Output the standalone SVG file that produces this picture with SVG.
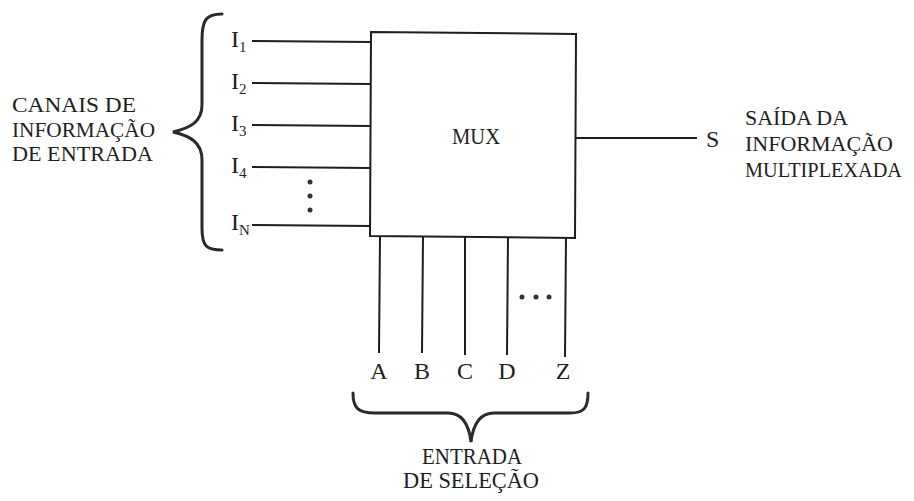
<svg xmlns="http://www.w3.org/2000/svg" width="914" height="501" viewBox="0 0 914 501">
<style>
text{font-family:"Liberation Serif","DejaVu Serif",serif;fill:#1e1e1e;font-size:24px}
.lbl{font-size:22px}
.ln{stroke:#1e1e1e;stroke-width:2;fill:none}
.br{stroke:#2a2a2a;stroke-width:3;fill:none;stroke-linecap:round}
.dot{fill:#333}
.sub{font-size:15px}
</style>
<rect width="914" height="501" fill="#ffffff"/>
<g id="connectors">
<line class="ln" x1="252" y1="41" x2="371" y2="42"/>
<line class="ln" x1="252" y1="83" x2="371" y2="84"/>
<line class="ln" x1="252" y1="125" x2="371" y2="126"/>
<line class="ln" x1="252" y1="167" x2="371" y2="168"/>
<line class="ln" x1="252" y1="225" x2="371" y2="226"/>
<line class="ln" x1="576" y1="138" x2="697" y2="138"/>
<line class="ln" x1="380" y1="237" x2="379" y2="353"/>
<line class="ln" x1="423" y1="237" x2="422" y2="353"/>
<line class="ln" x1="465" y1="237" x2="465" y2="355"/>
<line class="ln" x1="508" y1="237" x2="507" y2="355"/>
<line class="ln" x1="566" y1="237" x2="565" y2="357"/>
</g>
<g id="mux">
<path class="ln" d="M371,32 L576,34 L575,238 L370,236 Z" fill="#fff"/>
<text x="476" y="144" text-anchor="middle" textLength="48" lengthAdjust="spacingAndGlyphs">MUX</text>
</g>
<g id="inputs">
<text x="231" y="47">I<tspan class="sub" dy="5">1</tspan></text>
<text x="231" y="89">I<tspan class="sub" dy="5">2</tspan></text>
<text x="231" y="131">I<tspan class="sub" dy="5">3</tspan></text>
<text x="231" y="173">I<tspan class="sub" dy="5">4</tspan></text>
<text x="231" y="230">I<tspan class="sub" dy="5">N</tspan></text>
<circle class="dot" cx="310" cy="182" r="2.5"/>
<circle class="dot" cx="310" cy="196" r="2.5"/>
<circle class="dot" cx="310" cy="210" r="2.5"/>
</g>
<g id="input-brace">
<path class="br" d="M222,14 C206,14 202,20 202,40 L202,105 C202,122 190,128 173,132 C190,136 202,142 202,160 L202,228 C202,246 206,250 222,250"/>
</g>
<g id="input-label">
<text class="lbl" x="12" y="112" textLength="124" lengthAdjust="spacingAndGlyphs">CANAIS DE</text>
<text class="lbl" x="12" y="137" textLength="143" lengthAdjust="spacingAndGlyphs">INFORMAÇÃO</text>
<text class="lbl" x="12" y="161" textLength="141" lengthAdjust="spacingAndGlyphs">DE ENTRADA</text>
</g>
<g id="output">
<text x="706" y="147" font-size="22">S</text>
<text class="lbl" x="745" y="125" textLength="103" lengthAdjust="spacingAndGlyphs">SAÍDA DA</text>
<text class="lbl" x="745" y="151" textLength="148" lengthAdjust="spacingAndGlyphs">INFORMAÇÃO</text>
<text class="lbl" x="745" y="177" textLength="157" lengthAdjust="spacingAndGlyphs">MULTIPLEXADA</text>
</g>
<g id="select">
<text x="379" y="379" text-anchor="middle">A</text>
<text x="422" y="379" text-anchor="middle">B</text>
<text x="465" y="379" text-anchor="middle">C</text>
<text x="507" y="379" text-anchor="middle">D</text>
<text x="563" y="379" text-anchor="middle">Z</text>
<circle class="dot" cx="522" cy="297" r="2.5"/>
<circle class="dot" cx="536" cy="297" r="2.5"/>
<circle class="dot" cx="549" cy="297" r="2.5"/>
</g>
<g id="select-brace">
<path class="br" d="M353,393 C353,408 358,413 375,413 L448,413 C462,413 469,425 471,442 C473,425 480,413 494,413 L570,413 C584,413 588,408 588,393"/>
</g>
<g id="select-label">
<text x="422" y="464" font-size="21" textLength="100" lengthAdjust="spacingAndGlyphs">ENTRADA</text>
<text x="403" y="488" font-size="21" textLength="136" lengthAdjust="spacingAndGlyphs">DE SELEÇÃO</text>
</g>
</svg>
